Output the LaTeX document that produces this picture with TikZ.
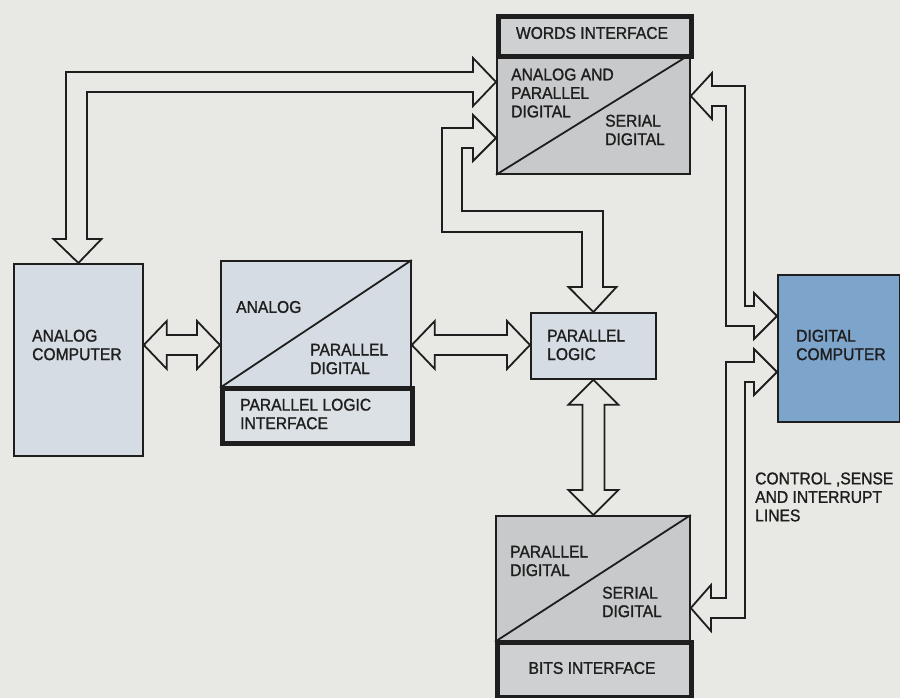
\documentclass[tikz,border=0pt]{standalone}
\usepackage{fontspec}
\setmainfont{Liberation Sans}[FakeStretch=0.92, FakeBold=1.2]
\usetikzlibrary{calc}
\definecolor{bg}{HTML}{E8E8E5}
\definecolor{boxblue}{HTML}{D5DCE3}
\definecolor{boxgrey}{HTML}{C8C9CA}
\definecolor{ifgrey}{HTML}{CFD0D1}
\definecolor{ifblue}{HTML}{DCE1E6}
\definecolor{digblue}{HTML}{7DA4CB}
\definecolor{ink}{HTML}{1E1E1E}
\tikzset{
  box/.style={draw=ink, line width=1.8pt, fill=boxblue, inner sep=0pt, anchor=north west},
  ifbox/.style={draw=ink, line width=5pt, fill=ifblue, inner sep=0pt, anchor=north west},
  lbl/.style={font=\fontsize{17}{18.5}\selectfont, text=ink, align=left, inner sep=0pt, anchor=west},
  clbl/.style={lbl, anchor=center, align=center},
  barrow/.style={draw=ink, line width=1.8pt, fill=bg, line join=miter},
  diag/.style={draw=ink, line width=1.8pt}
}
% horizontal double block arrow: #1 left tip, #2 right tip
\newcommand\hdarr[2]{%
  \draw[barrow] (#1) -- ++(23,-24) -- ++(0,14) -- ($(#2)+(-23,-10)$) -- ++(0,-14) -- (#2)
    -- ++(-23,24) -- ++(0,-14) -- ($(#1)+(23,10)$) -- ++(0,14) -- cycle;}
% vertical double block arrow: #1 top tip, #2 bottom tip
\newcommand\vdarr[2]{%
  \draw[barrow] (#1) -- ++(-25,25) -- ++(14,0) -- ($(#2)+(-11,-25)$) -- ++(-14,0) -- (#2)
    -- ++(25,-25) -- ++(-14,0) -- ($(#1)+(11,25)$) -- ++(14,0) -- cycle;}
\begin{document}
\begin{tikzpicture}[x=1pt, y=-1pt]
\path[fill=bg] (0,0) rectangle (900,698);
\useasboundingbox (0,0) rectangle (900,698);

% ---- boxes ----
\node[box, minimum width=129pt, minimum height=192pt] (analog) at (13,263) {};
\node[box, minimum width=190pt, minimum height=126pt] (pli) at (220,260) {};
\draw[diag] (pli.south west) -- (pli.north east);
\node[ifbox, minimum width=190pt, minimum height=55pt] (pliif) at (220,386) {};

\node[box, fill=boxgrey, minimum width=193pt, minimum height=119pt] (words) at (496,54) {};
\draw[diag] (words.south west) -- (words.north east);
\node[ifbox, fill=ifgrey, minimum width=193pt, minimum height=40pt] (wordsif) at (496,14) {};

\node[box, minimum width=125pt, minimum height=66pt] (pl) at (530,312) {};

\node[box, fill=digblue, minimum width=122pt, minimum height=147pt] (dig) at (777,274) {};

\node[box, fill=boxgrey, minimum width=194pt, minimum height=125pt] (bits) at (495,515) {};
\draw[diag] (bits.south west) -- (bits.north east);
\node[ifbox, fill=ifgrey, minimum width=194pt, minimum height=55pt] (bitsif) at (495,640) {};

% ---- straight double arrows ----
\hdarr{analog.east |- 0,345}{pli.west |- 0,345}
\hdarr{pli.east |- 0,345}{pl.west |- 0,345}
\vdarr{pl.south}{pl.south |- bits.north}

% ---- bent double arrows ----
% analog computer <-> words (analog and parallel digital)
\draw[barrow] (analog.north) -- (53.5,239) -- (66,239) -- (66,72) -- (473,72) -- (473,58)
  -- (words.west |- 0,82) -- (473,106) -- (473,92) -- (87,92) -- (87,239) -- (101.5,239) -- cycle;
% words <-> parallel logic
\draw[barrow] (words.west |- 0,138) -- (473,115) -- (473,128) -- (442,128) -- (442,232)
  -- (582,232) -- (582,287) -- (568.5,287) -- (pl.north) -- (616.5,287) -- (603,287)
  -- (603,211) -- (462,211) -- (462,148) -- (473,148) -- (473,161) -- cycle;
% words (serial digital) <-> digital computer
\draw[barrow] (words.east |- 0,96) -- (712,73) -- (712,86) -- (745,86) -- (745,306)
  -- (754,306) -- (754,293) -- (dig.west |- 0,316) -- (754,339) -- (754,326) -- (726,326)
  -- (726,106) -- (712,106) -- (712,119) -- cycle;
% digital computer <-> bits (serial digital)
\draw[barrow] (dig.west |- 0,372) -- (754,349) -- (754,362) -- (726,362) -- (726,598)
  -- (711,598) -- (711,585) -- (bits.east |- 0,608) -- (711,631) -- (711,618) -- (745,618)
  -- (745,382) -- (754,382) -- (754,395) -- cycle;

% ---- texts ----
\node[lbl] (tanalog) at (32,345) {ANALOG\\COMPUTER};
\node[lbl] (tpli1) at (236,307) {ANALOG};
\node[lbl] (tpli2) at (310,359) {PARALLEL\\DIGITAL};
\node[lbl] (tpli3) at (240,414) {PARALLEL LOGIC\\INTERFACE};
\node[clbl] (twords0) at (592,33) {WORDS INTERFACE};
\node[lbl] (twords1) at (511,93) {ANALOG AND\\PARALLEL\\DIGITAL};
\node[lbl] (twords2) at (605,130) {SERIAL\\DIGITAL};
\node[lbl] (tpl) at (547,345) {PARALLEL\\LOGIC};
\node[lbl] (tdig) at (796,345) {DIGITAL\\COMPUTER};
\node[lbl] (tbits1) at (510,561) {PARALLEL\\DIGITAL};
\node[lbl] (tbits2) at (602,602) {SERIAL\\DIGITAL};
\node[clbl] (tbits0) at (592,668) {BITS INTERFACE};
\node[lbl] (tctrl) at (755,497) {CONTROL ,SENSE\\AND INTERRUPT\\LINES};
\end{tikzpicture}
\end{document}
